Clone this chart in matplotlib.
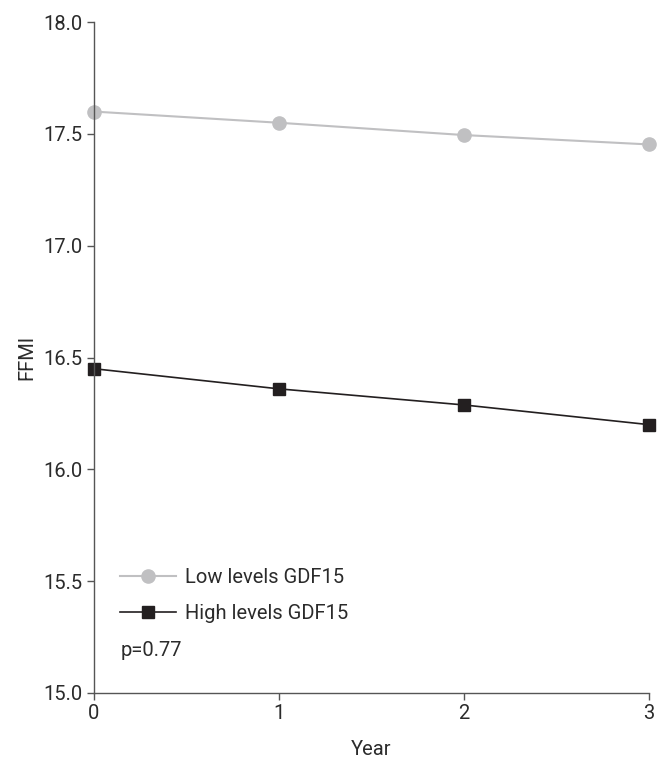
import matplotlib.pyplot as plt
from matplotlib.lines import Line2D

plt.rcParams['font.family'] = ['Roboto', 'DejaVu Sans']

years = [0, 1, 2, 3]
low_gdf15 = [17.60, 17.55, 17.495, 17.453]
high_gdf15 = [16.45, 16.36, 16.288, 16.20]
y_ticks = [15.0, 15.5, 16.0, 16.5, 17.0, 17.5, 18.0]

txt = '#2b2b2b'
low_col = '#c0c0c2'
high_col = '#231f20'
fs = 14.5

fig = plt.figure(figsize=(6.67, 7.58), dpi=100)
ax = fig.add_axes([0.141, 0.0858, 0.832, 0.885])

ax.plot(years, low_gdf15, color=low_col, lw=1.5, marker='o', ms=9.5, mec=low_col, mfc=low_col, clip_on=False)
ax.plot(years, high_gdf15, color=high_col, lw=1.2, marker='s', ms=8.5, mec=high_col, mfc=high_col, clip_on=False)

ax.set_xlim(0, 3)
ax.set_ylim(15.0, 18.0)
ax.set_xticks(years)
ax.set_yticks(y_ticks)
ax.set_yticklabels([f'{v:.1f}' for v in y_ticks])

for s in ['top', 'right']:
    ax.spines[s].set_visible(False)
for s in ['left', 'bottom']:
    ax.spines[s].set_color('#555555')
    ax.spines[s].set_linewidth(1.0)
ax.tick_params(direction='out', length=5, width=1.0, colors='#555555', labelcolor=txt, labelsize=fs, pad=3)

ax.set_xlabel('Year', fontsize=fs, color=txt, labelpad=12)
ax.set_ylabel('FFMI', fontsize=fs, color=txt, labelpad=5)

handles = [
    Line2D([], [], color=low_col, lw=1.5, marker='o', ms=9.5, mec=low_col, mfc=low_col),
    Line2D([], [], color=high_col, lw=1.2, marker='s', ms=8.5, mec=high_col, mfc=high_col),
]
leg = ax.legend(handles, ['Low levels GDF15', 'High levels GDF15'], loc='center left',
                bbox_to_anchor=(0.014, 0.145), frameon=False, fontsize=fs,
                handlelength=2.8, handletextpad=0.45, labelspacing=0.85)
for t in leg.get_texts():
    t.set_color(txt)

ax.text(0.047, 0.064, 'p=0.77', transform=ax.transAxes, fontsize=fs, color=txt, va='center')

fig.savefig('out.png', dpi=100)
